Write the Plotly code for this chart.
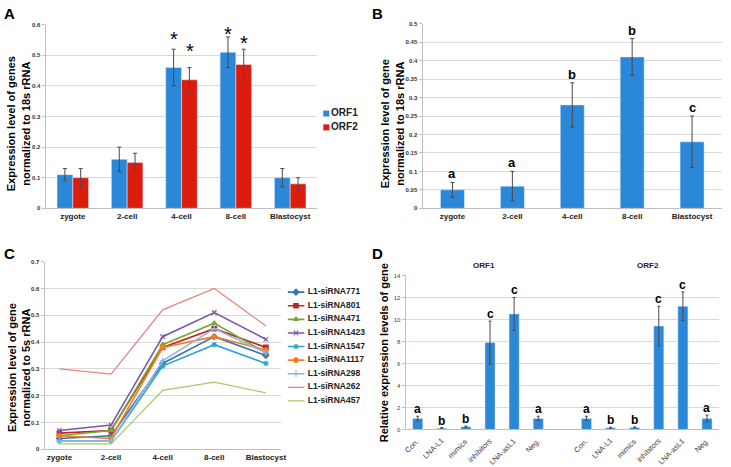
import plotly.graph_objects as go

W, H = 731, 467


def fx(p):
    return p / W


def fy(p):
    return 1 - p / H


# ---------------- data ----------------
stages = ["zygote", "2-cell", "4-cell", "8-cell", "Blastocyst"]

# Panel A
a_names = ["ORF1", "ORF2"]
a_orf1 = [0.11, 0.16, 0.46, 0.51, 0.10]
a_orf1_err = [0.02, 0.04, 0.06, 0.05, 0.03]
a_orf2 = [0.10, 0.15, 0.42, 0.47, 0.08]
a_orf2_err = [0.03, 0.03, 0.04, 0.05, 0.02]
a_sig = ["", "", "*", "*", ""]
# heights (axis units) at which the significance stars sit
a_orf1_star_y = [0, 0, 0.555, 0.574, 0]
a_orf2_star_y = [0, 0, 0.516, 0.542, 0]

# Panel B
b_vals = [0.05, 0.06, 0.28, 0.41, 0.18]
b_err = [0.02, 0.04, 0.06, 0.05, 0.07]
b_letters = ["a", "a", "b", "b", "c"]

# Panel C
c_names = ["L1-siRNA771", "L1-siRNA801", "L1-siRNA471", "L1-siRNA1423", "L1-siRNA1547",
           "L1-siRNA1117", "L1-siRNA298", "L1-siRNA262", "L1-siRNA457"]
c_771 = [0.04, 0.05, 0.32, 0.42, 0.35]
c_801 = [0.06, 0.07, 0.38, 0.45, 0.38]
c_471 = [0.05, 0.07, 0.39, 0.47, 0.36]
c_1423 = [0.07, 0.09, 0.42, 0.51, 0.41]
c_1547 = [0.03, 0.03, 0.31, 0.39, 0.32]
c_1117 = [0.05, 0.04, 0.38, 0.42, 0.37]
c_298 = [0.03, 0.03, 0.33, 0.45, 0.36]
c_262 = [0.30, 0.28, 0.52, 0.60, 0.46]
c_457 = [0.02, 0.02, 0.22, 0.25, 0.21]
c_values = [c_771, c_801, c_471, c_1423, c_1547, c_1117, c_298, c_262, c_457]

# Panel D
d_labels = ["Con.", "LNA-L1", "mimics", "inhibitors", "LNA-asL1", "Neg."]
d_pos_orf1 = [0, 1, 2, 3, 4, 5]
d_pos_orf2 = [7, 8, 9, 10, 11, 12]
d_orf1 = [1.0, 0.12, 0.25, 7.9, 10.5, 1.0]
d_orf1_err = [0.2, 0.05, 0.05, 1.95, 1.5, 0.2]
d_orf2 = [1.0, 0.15, 0.18, 9.4, 11.2, 1.0]
d_orf2_err = [0.2, 0.05, 0.05, 1.8, 1.3, 0.3]
d_letters = ["a", "b", "b", "c", "c", "a"]

# ---------------- styles ----------------
BLUE = "#2b87d8"
RED = "#dd1c0e"
GRID = "#d9d9d9"
ERR = "#4a4a4a"
FONT = "Liberation Sans, Arial, sans-serif"

a_colors = [BLUE, RED]
c_colors = ["#3b72b5", "#c0262b", "#78a832", "#7b57a8", "#2ea6c9",
            "#f07d1f", "#93b5e2", "#e8837e", "#a9c96c"]
c_symbols = ["diamond", "square", "triangle-up", "x-thin", "asterisk",
             "circle", "cross-thin", None, None]

fig = go.Figure()

# Panel A
fig.add_trace(go.Bar(x=stages, y=a_orf1, name=a_names[0], marker_color=BLUE,
                     error_y=dict(type="data", array=a_orf1_err, color=ERR, thickness=1, width=2),
                     xaxis="x", yaxis="y"))
fig.add_trace(go.Bar(x=stages, y=a_orf2, name=a_names[1], marker_color=RED,
                     error_y=dict(type="data", array=a_orf2_err, color=ERR, thickness=1, width=2),
                     xaxis="x", yaxis="y"))

# Panel B
fig.add_trace(go.Bar(x=stages, y=b_vals, marker_color=BLUE, width=0.4,
                     error_y=dict(type="data", array=b_err, color=ERR, thickness=1, width=2),
                     xaxis="x2", yaxis="y2"))


def c_marker(sym, col, size):
    return dict(symbol=sym, size=size, color=col, line=dict(color=col, width=1.2))


# Panel C
for name, vals, col, sym in zip(c_names, c_values, c_colors, c_symbols):
    if sym is None:
        fig.add_trace(go.Scatter(x=stages, y=vals, name=name, mode="lines",
                                 line=dict(color=col, width=1.3),
                                 xaxis="x3", yaxis="y3"))
    else:
        fig.add_trace(go.Scatter(x=stages, y=vals, name=name, mode="lines+markers",
                                 line=dict(color=col, width=1.6),
                                 marker=c_marker(sym, col, 4.5),
                                 xaxis="x3", yaxis="y3"))

# Panel D
fig.add_trace(go.Bar(x=d_pos_orf1, y=d_orf1, marker_color=BLUE, width=0.42,
                     error_y=dict(type="data", array=d_orf1_err, color=ERR, thickness=1, width=1.5),
                     xaxis="x4", yaxis="y4"))
fig.add_trace(go.Bar(x=d_pos_orf2, y=d_orf2, marker_color=BLUE, width=0.42,
                     error_y=dict(type="data", array=d_orf2_err, color=ERR, thickness=1, width=1.5),
                     xaxis="x4", yaxis="y4"))

# ---- legend for A (compact key drawn on its own hidden axes) ----
a_idx = list(range(len(a_names)))
fig.add_trace(go.Scatter(x=[0] * len(a_names), y=a_idx, mode="markers+text",
                         text=["<b>%s</b>" % n for n in a_names], textposition="middle right",
                         textfont=dict(size=10, family=FONT, color="#222"),
                         marker=dict(symbol="square", size=6, color=a_colors),
                         xaxis="x5", yaxis="y5", cliponaxis=False, hoverinfo="skip"))

# ---- legend for C ----
for i, (col, sym) in enumerate(zip(c_colors, c_symbols)):
    if sym is None:
        fig.add_trace(go.Scatter(x=[0, 1], y=[i, i], mode="lines",
                                 line=dict(color=col, width=1.3),
                                 xaxis="x6", yaxis="y6", cliponaxis=False, hoverinfo="skip"))
    else:
        fig.add_trace(go.Scatter(x=[0, 1], y=[i, i], mode="lines",
                                 line=dict(color=col, width=1.6),
                                 xaxis="x6", yaxis="y6", cliponaxis=False, hoverinfo="skip"))
        fig.add_trace(go.Scatter(x=[0.5], y=[i], mode="markers",
                                 marker=c_marker(sym, col, 4.5),
                                 xaxis="x6", yaxis="y6", cliponaxis=False, hoverinfo="skip"))
c_idx = list(range(len(c_names)))
fig.add_trace(go.Scatter(x=[1.2] * len(c_names), y=c_idx, mode="text",
                         text=["<b>%s</b>" % n for n in c_names], textposition="middle right",
                         textfont=dict(size=8.5, family=FONT, color="#222"),
                         xaxis="x6", yaxis="y6", cliponaxis=False, hoverinfo="skip"))

ann = []
# stars in A
for i, s in enumerate(a_sig):
    if s:
        ann.append(dict(x=stages[i], y=a_orf1_star_y[i], xref="x", yref="y", text=s,
                        showarrow=False, yanchor="bottom", xshift=-8, yshift=-14,
                        font=dict(size=20, family=FONT, color="black")))
        ann.append(dict(x=stages[i], y=a_orf2_star_y[i], xref="x", yref="y", text=s,
                        showarrow=False, yanchor="bottom", xshift=8, yshift=-14,
                        font=dict(size=20, family=FONT, color="black")))
# letters in B
for i, s in enumerate(b_letters):
    ann.append(dict(x=stages[i], y=b_vals[i] + b_err[i], xref="x2", yref="y2", text="<b>%s</b>" % s,
                    showarrow=False, yanchor="bottom", yshift=-1,
                    font=dict(size=13, family=FONT, color="black")))
# letters in D
for pos, v, e, s in zip(d_pos_orf1, d_orf1, d_orf1_err, d_letters):
    ann.append(dict(x=pos, y=v + e, xref="x4", yref="y4", text="<b>%s</b>" % s,
                    showarrow=False, yanchor="bottom", yshift=-2,
                    font=dict(size=12, family=FONT, color="black")))
for pos, v, e, s in zip(d_pos_orf2, d_orf2, d_orf2_err, d_letters):
    ann.append(dict(x=pos, y=v + e, xref="x4", yref="y4", text="<b>%s</b>" % s,
                    showarrow=False, yanchor="bottom", yshift=-2,
                    font=dict(size=12, family=FONT, color="black")))
# rotated category labels in D
for pos, lab in zip(d_pos_orf1 + d_pos_orf2, d_labels + d_labels):
    ann.append(dict(x=pos, y=0, xref="x4", yref="y4", text=lab, textangle=-45,
                    showarrow=False, xanchor="right", yanchor="top", xshift=5, yshift=-6,
                    borderpad=0, font=dict(size=7.5, family=FONT, color="#3a3a3a")))

# panel letters
for letter, px, py in [("A", 2, 0), ("B", 373, 0), ("C", 2, 243), ("D", 373, 243)]:
    ann.append(dict(x=fx(px), y=fy(py), xref="paper", yref="paper", text="<b>%s</b>" % letter,
                    showarrow=False, xanchor="left", yanchor="top",
                    font=dict(size=15, family=FONT, color="black")))

# y titles
for txt, px, py in [("Expression level of genes<br>normalized to 18s rRNA", 19, 122),
                    ("Expression level of gene<br>normalized to 18s rRNA", 396, 122),
                    ("Expression level of gene<br>normalized to 5s rRNA", 19, 369),
                    ("Relative expression levels of gene", 388, 354)]:
    ann.append(dict(x=fx(px), y=fy(py), xref="paper", yref="paper", text="<b>%s</b>" % txt,
                    showarrow=False, textangle=-90, xanchor="center", yanchor="middle",
                    font=dict(size=11, family=FONT, color="black")))

# ORF titles in D
for txt, px in [("ORF1", 488), ("ORF2", 653)]:
    ann.append(dict(x=fx(px), y=fy(266), xref="paper", yref="paper", text="<b>%s</b>" % txt,
                    showarrow=False, xanchor="center", yanchor="middle",
                    font=dict(size=8, family=FONT, color="#222")))

tickfont_x = dict(size=8, family=FONT, color="#222", weight="bold")
tickfont_y = dict(size=6, family=FONT, color="#333", weight="bold")


def xax(domain, anchor, **kw):
    d = dict(domain=domain, anchor=anchor, showgrid=False, showline=True, linecolor="#bfbfbf",
             linewidth=1, ticks="", tickfont=tickfont_x, zeroline=False, fixedrange=True)
    d.update(kw)
    return d


def yax(domain, anchor, rng, dtick, **kw):
    d = dict(domain=domain, anchor=anchor, range=rng, dtick=dtick, showgrid=True, gridcolor=GRID,
             gridwidth=1, showline=True, linecolor="#bfbfbf", linewidth=1, ticks="outside",
             ticklen=3, tickcolor="#bfbfbf", tickfont=tickfont_y, zeroline=False, fixedrange=True)
    d.update(kw)
    return d


hidden = dict(visible=False, showgrid=False, zeroline=False, fixedrange=True)

fig.update_layout(
    width=W, height=H,
    margin=dict(l=0, r=0, t=0, b=0),
    paper_bgcolor="white", plot_bgcolor="white",
    font=dict(family=FONT),
    showlegend=False,
    barmode="group", bargap=0.42, bargroupgap=0.0,
    xaxis=xax([fx(46), fx(320)], "y"),
    yaxis=yax([fy(208), fy(22)], "x", [0, 0.6], 0.1),
    xaxis2=xax([fx(426), fx(728)], "y2"),
    yaxis2=yax([fy(208), fy(21)], "x2", [0, 0.5], 0.05),
    xaxis3=xax([fx(45), fx(283)], "y3"),
    yaxis3=yax([fy(452), fy(262)], "x3", [0, 0.7], 0.1),
    xaxis4=xax([fx(409), fx(725)], "y4", range=[-0.5, 12.5],
               tickvals=d_pos_orf1 + d_pos_orf2, showticklabels=False),
    yaxis4=yax([fy(432), fy(276)], "x4", [0, 14], 2,
               tickfont=dict(size=6, family=FONT, color="#444")),
    xaxis5=dict(domain=[fx(325), fx(333)], anchor="y5", range=[-1, 1], **hidden),
    yaxis5=dict(domain=[fy(133), fy(105)], anchor="x5", range=[1.5, -0.5], **hidden),
    xaxis6=dict(domain=[fx(290), fx(312)], anchor="y6", range=[0, 1.3], **hidden),
    yaxis6=dict(domain=[fy(410), fy(286)], anchor="x6", range=[8.5, -0.5], **hidden),
    annotations=ann,
)

fig.write_html("out.html", config={"displayModeBar": False},
               post_script="document.body.style.margin='0px';")
